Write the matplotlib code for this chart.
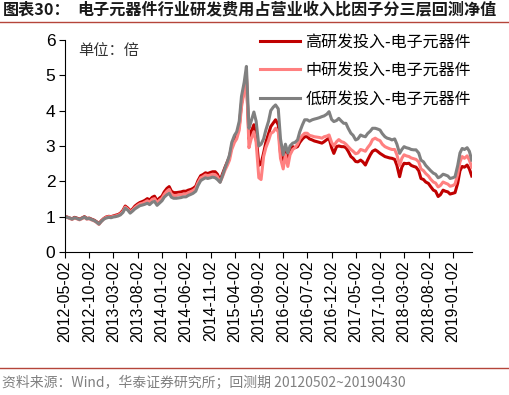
import matplotlib
matplotlib.use("Agg")
import matplotlib.pyplot as plt
import pandas as pd

plt.rcParams['font.family'] = ['Liberation Sans', 'Noto Sans CJK SC', 'DejaVu Sans']

# ---------------- data (semi-monthly readings) ----------------
dates = (["2012-05-02"]
         + [d.strftime("%Y-%m-%d") for d in pd.date_range("2012-05-03", "2019-04-20", freq="SMS")]
         + ["2019-04-30"])

high = [
    # 2012
    1.00, 0.99, 0.96, 0.94, 0.98, 0.96, 0.93, 0.96, 1.00, 0.95, 0.96, 0.93, 0.90, 0.86, 0.80, 0.88,
    # 2013
    0.95, 0.99, 1.01, 1.00, 1.02, 1.04, 1.06, 1.10, 1.18, 1.30, 1.24, 1.16, 1.22, 1.30, 1.36, 1.40,
    1.43, 1.46, 1.51, 1.47, 1.55, 1.58, 1.45, 1.52,
    # 2014
    1.58, 1.70, 1.80, 1.85, 1.72, 1.68, 1.68, 1.69, 1.70, 1.72, 1.72, 1.75, 1.77, 1.80, 1.86, 2.02,
    2.16, 2.19, 2.24, 2.22, 2.25, 2.27, 2.27, 2.20,
    # 2015
    2.02, 2.20, 2.40, 2.55, 2.70, 3.00, 3.20, 3.30, 3.55, 4.20, 4.60, 4.95, 3.20, 3.40, 3.60, 3.30,
    2.45, 2.50, 2.80, 3.10, 3.35, 3.55, 3.65, 3.74,
    # 2016
    3.60, 2.80, 2.45, 2.85, 2.60, 2.85, 2.98, 2.95, 2.98, 3.10, 3.20, 3.26, 3.26, 3.20, 3.17, 3.14,
    3.12, 3.10, 3.08, 3.12, 3.18, 3.22, 2.95, 2.79,
    # 2017
    2.98, 3.00, 2.98, 2.98, 2.95, 2.85, 2.70, 2.65, 2.56, 2.55, 2.60, 2.55, 2.46, 2.60, 2.75, 2.85,
    2.89, 2.85, 2.79, 2.75, 2.70, 2.68, 2.66, 2.65,
    # 2018
    2.62, 2.45, 2.13, 2.40, 2.51, 2.50, 2.51, 2.45, 2.42, 2.40, 2.30, 2.08, 2.05, 1.98, 1.94, 1.85,
    1.75, 1.72, 1.57, 1.62, 1.75, 1.72, 1.70, 1.64,
    # 2019
    1.66, 1.68, 1.95, 2.30, 2.42, 2.40, 2.46, 2.35, 2.15,
]

mid = [
    # 2012
    1.00, 0.98, 0.95, 0.92, 0.96, 0.94, 0.91, 0.94, 0.98, 0.93, 0.94, 0.91, 0.88, 0.84, 0.78, 0.86,
    # 2013
    0.94, 0.98, 1.00, 0.99, 1.01, 1.02, 1.04, 1.08, 1.15, 1.27, 1.21, 1.13, 1.19, 1.26, 1.32, 1.36,
    1.38, 1.41, 1.45, 1.41, 1.49, 1.51, 1.39, 1.46,
    # 2014
    1.52, 1.63, 1.72, 1.77, 1.64, 1.60, 1.60, 1.62, 1.62, 1.64, 1.64, 1.68, 1.71, 1.74, 1.80, 1.96,
    2.10, 2.13, 2.18, 2.16, 2.18, 2.20, 2.19, 2.13,
    # 2015
    1.98, 2.12, 2.32, 2.45, 2.60, 2.90, 3.10, 3.20, 3.45, 4.10, 4.55, 5.05, 2.95, 3.20, 3.40, 3.10,
    2.10, 2.05, 2.70, 2.95, 3.15, 3.35, 3.40, 3.50,
    # 2016
    3.40, 2.65, 2.35, 2.75, 2.42, 2.75, 2.90, 2.95, 3.05, 3.20, 3.30, 3.36, 3.36, 3.30, 3.28, 3.26,
    3.25, 3.24, 3.22, 3.26, 3.28, 3.31, 3.10, 3.00,
    # 2017
    3.12, 3.18, 3.12, 3.10, 3.05, 2.98, 2.90, 2.85, 2.78, 2.80, 2.90, 2.88, 2.85, 2.95, 3.05, 3.18,
    3.22, 3.18, 3.15, 3.05, 2.98, 2.95, 2.92, 2.90,
    # 2018
    2.90, 2.75, 2.45, 2.65, 2.75, 2.72, 2.70, 2.66, 2.64, 2.62, 2.55, 2.35, 2.30, 2.22, 2.15, 2.06,
    1.98, 1.95, 1.84, 1.88, 1.98, 1.95, 1.92, 1.86,
    # 2019
    1.88, 1.92, 2.20, 2.55, 2.70, 2.65, 2.72, 2.60, 2.40,
]

low = [
    # 2012
    1.00, 0.98, 0.96, 0.93, 0.97, 0.95, 0.92, 0.95, 0.99, 0.94, 0.95, 0.92, 0.89, 0.85, 0.79, 0.86,
    # 2013
    0.93, 0.96, 0.98, 0.97, 0.99, 1.00, 1.02, 1.05, 1.12, 1.24, 1.18, 1.10, 1.16, 1.22, 1.27, 1.31,
    1.33, 1.35, 1.38, 1.34, 1.41, 1.43, 1.32, 1.38,
    # 2014
    1.45, 1.55, 1.62, 1.66, 1.55, 1.52, 1.52, 1.53, 1.54, 1.56, 1.56, 1.60, 1.63, 1.66, 1.72, 1.88,
    2.02, 2.06, 2.10, 2.08, 2.10, 2.12, 2.10, 2.05,
    # 2015
    1.97, 2.15, 2.38, 2.55, 2.75, 3.10, 3.30, 3.40, 3.70, 4.40, 4.80, 5.25, 3.50, 3.70, 3.96, 3.70,
    3.00, 3.05, 3.20, 3.45, 3.70, 4.00, 4.10, 4.16,
    # 2016
    4.05, 3.20, 2.75, 3.05, 2.80, 3.00, 3.08, 3.10, 3.17, 3.40, 3.60, 3.74, 3.74, 3.70, 3.74, 3.76,
    3.78, 3.80, 3.83, 3.85, 3.90, 3.97, 3.75, 3.69,
    # 2017
    3.72, 3.78, 3.70, 3.64, 3.64, 3.50, 3.36, 3.30, 3.17, 3.20, 3.31, 3.28, 3.26, 3.35, 3.42, 3.50,
    3.50, 3.48, 3.45, 3.35, 3.26, 3.22, 3.20, 3.17,
    # 2018
    3.20, 3.05, 2.79, 2.90, 2.98, 2.95, 2.93, 2.90, 2.89, 2.89, 2.80, 2.60, 2.55, 2.45, 2.37, 2.30,
    2.23, 2.20, 2.10, 2.13, 2.20, 2.18, 2.15, 2.08,
    # 2019
    2.10, 2.13, 2.45, 2.80, 2.93, 2.90, 2.95, 2.85, 2.60,
]

series_names = ["高研发投入-电子元器件", "中研发投入-电子元器件", "低研发投入-电子元器件"]
series_colors = ["#C00000", "#FF8080", "#808080"]

tick_labels = ["2012-05-02", "2012-10-02", "2013-03-02", "2013-08-02", "2014-01-02",
               "2014-06-02", "2014-11-02", "2015-04-02", "2015-09-02", "2016-02-02",
               "2016-07-02", "2016-12-02", "2017-05-02", "2017-10-02", "2018-03-02",
               "2018-08-02", "2019-01-02"]

title_label = "图表30："
title_text = "电子元器件行业研发费用占营业收入比因子分三层回测净值"
source_text = "资料来源：Wind，华泰证券研究所；回测期 20120502~20190430"

# ---------------- plot ----------------
x = pd.to_datetime(dates)
fig = plt.figure(figsize=(5.10, 3.95), dpi=100)
ax = fig.add_axes([0.1275, 0.362, 0.7975, 0.537])

for vals, name, col in zip([high, mid, low], series_names, series_colors):
    ax.plot(x, vals, color=col, lw=2.2, label=name, solid_joinstyle='round')

ax.set_ylim(0, 6)
ax.set_yticks(range(0, 7))
ax.set_xlim(pd.Timestamp("2012-05-02"), pd.Timestamp("2019-04-30"))
tk = pd.to_datetime(tick_labels)
ax.set_xticks(tk)
ax.set_xticklabels(tick_labels, rotation=90)
ax.tick_params(axis='x', direction='out', length=4, width=0.8, labelsize=11.5, pad=2)
ax.tick_params(axis='y', direction='out', length=4, width=0.8, labelsize=12.5, pad=3)
for s in ['top', 'right']:
    ax.spines[s].set_visible(False)
for s in ['left', 'bottom']:
    ax.spines[s].set_linewidth(0.8)
    ax.spines[s].set_color('#000000')

leg = ax.legend(loc='upper right', bbox_to_anchor=(0.998, 1.03), frameon=False,
                prop={'family': ['Noto Sans CJK SC'], 'size': 11.5},
                handlelength=2.5, handletextpad=0.35, labelspacing=0.72,
                borderpad=0.0, borderaxespad=0.0)

ax.text(0.032, 0.99, "单位：倍", transform=ax.transAxes, ha='left', va='top',
        fontsize=11, family=['Noto Sans CJK SC'], color='#333333')

fig.text(0.006, 0.975, title_label, ha='left', va='center', fontsize=11.6,
         fontweight='bold', family=['Noto Sans CJK SC'], color='#1a1a1a')
fig.text(0.151, 0.975, title_text, ha='left', va='center', fontsize=11.6,
         fontweight='bold', family=['Noto Sans CJK SC'], color='#1a1a1a')
fig.add_artist(plt.Line2D([0, 1], [0.945, 0.945], color='#B5453A', lw=1.0,
                          transform=fig.transFigure))
fig.add_artist(plt.Line2D([0, 1], [0.068, 0.068], color='#B5453A', lw=1.0,
                          transform=fig.transFigure))
fig.text(0.004, 0.030, source_text, ha='left', va='center', fontsize=10,
         family=['Noto Sans CJK SC', 'Liberation Sans'], color='#808080')

fig.savefig("out.png", dpi=100)
